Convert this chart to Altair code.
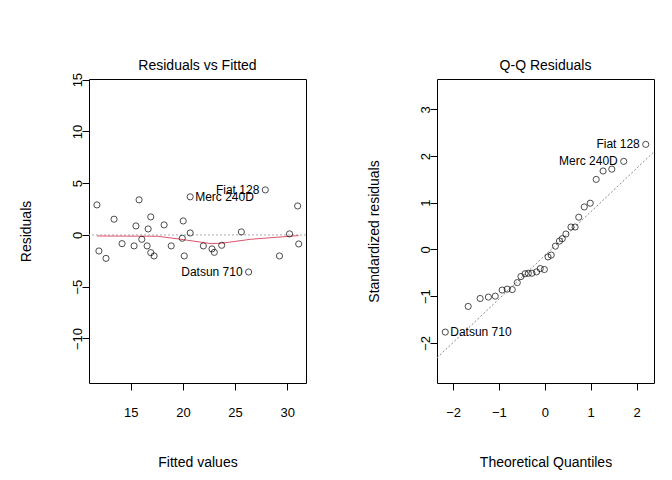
import altair as alt
import pandas as pd

# Residuals vs Fitted
fitted = [11.76, 11.95, 12.63, 13.4, 14.17, 15.32, 15.5, 15.8, 16.06, 16.57, 16.67,
          16.92, 16.92, 17.24, 18.2, 18.88, 19.94, 20.03, 20.13, 20.7, 20.7, 21.96,
          22.79, 23.01, 23.72, 25.6, 26.3, 27.9, 29.26, 30.22, 31.0, 31.1]
resid = [2.9, -1.55, -2.26, 1.52, -0.84, -1.06, 0.87, 3.39, -0.42, -1.06, 0.58,
         1.74, -1.71, -2.03, 0.97, -1.06, -0.32, 1.35, -2.03, 3.68, 0.19, -1.06,
         -1.35, -1.68, -1.0, 0.29, -3.58, 4.35, -2.03, 0.1, 2.8, -0.87]
smooth_x = [11.76, 17.6, 19.8, 22.7, 23.7, 26.5, 31.1]
smooth_y = [-0.1, -0.13, -0.42, -0.84, -0.8, -0.42, -0.06]

# Q-Q Residuals
theo = [2.20, 1.72, 1.46, 1.27, 1.12, 0.99, 0.86, 0.74, 0.66, 0.57, 0.46, 0.38,
        0.32, 0.23, 0.14, 0.07, -0.01, -0.10, -0.18, -0.28, -0.36, -0.43, -0.52,
        -0.60, -0.71, -0.82, -0.93, -1.08, -1.23, -1.41, -1.67, -2.17]
std_resid = [2.25, 1.886, 1.72, 1.68, 1.5, 0.99, 0.91, 0.69, 0.48, 0.48, 0.33, 0.23,
             0.18, 0.07, -0.12, -0.16, -0.43, -0.41, -0.48, -0.51, -0.51, -0.52, -0.58,
             -0.71, -0.86, -0.85, -0.87, -1.0, -1.02, -1.05, -1.22, -1.77]
qq_line_x = [-2.35, 2.38]
qq_line_y = [-2.32, 2.09]

labels_left = pd.DataFrame({"x": [27.9, 26.3, 20.7], "y": [4.35, -3.58, 3.68],
                            "name": ["Fiat 128", "Datsun 710", "Merc 240D"],
                            "side": ["r", "r", "l"]})
labels_right = pd.DataFrame({"x": [2.20, 1.72, -2.17], "y": [2.25, 1.886, -1.77],
                             "name": ["Fiat 128", "Merc 240D", "Datsun 710"],
                             "side": ["r", "r", "l"]})

W, H = 217, 304
FONT = "Liberation Sans"
RED = "#DF536B"


def xaxis(title, values):
    return alt.Axis(title=title, values=values, labelPadding=16, titlePadding=36,
                    tickSize=7, labelFontSize=13, titleFontSize=14, titleFontWeight="normal")


def yaxis(title, values):
    return alt.Axis(title=title, values=values, labelAngle=-90, labelAlign="center",
                    labelBaseline="bottom", labelPadding=-2, titlePadding=38, tickSize=7,
                    labelFontSize=13, titleFontSize=14, titleFontWeight="normal")


def point_layer(df, xs, ys):
    return alt.Chart(df).mark_point(shape="circle", filled=False, color="black",
                                    size=38, strokeWidth=1).encode(x=xs, y=ys)


def text_layers(df, xname, yname):
    right = alt.Chart(df[df.side == "r"]).mark_text(align="right", dx=-6, font=FONT,
                                                    fontSize=12, color="black").encode(
        x=xname, y=yname, text="name")
    left = alt.Chart(df[df.side == "l"]).mark_text(align="left", dx=5, font=FONT,
                                                   fontSize=12, color="black").encode(
        x=xname, y=yname, text="name")
    return right + left


def panel_title(text):
    return alt.Chart(pd.DataFrame({"t": [text]})).mark_text(
        font=FONT, fontSize=14, color="black", baseline="middle").encode(
        x=alt.value(W / 2), y=alt.value(-13), text="t:N")


# left panel
lx = alt.X("x:Q", scale=alt.Scale(domain=[11.0, 31.8], nice=False, zero=False),
           axis=xaxis("Fitted values", [15, 20, 25, 30]))
ly = alt.Y("y:Q", scale=alt.Scale(domain=[-14.3, 15.06], nice=False, zero=False),
           axis=yaxis("Residuals", [-10, -5, 0, 5, 10, 15]))

df_rf = pd.DataFrame({"x": fitted, "y": resid})
df_sm = pd.DataFrame({"x": smooth_x, "y": smooth_y})

zero = alt.Chart(pd.DataFrame({"y": [0]})).mark_rule(color="#aaaaaa", strokeDash=[2, 2]).encode(
    y=alt.Y("y:Q"))
smooth = alt.Chart(df_sm).mark_line(color=RED, strokeWidth=1).encode(x="x:Q", y="y:Q")
left = alt.layer(zero, smooth, point_layer(df_rf, lx, ly), text_layers(labels_left, "x:Q", "y:Q"),
                 panel_title("Residuals vs Fitted")).properties(width=W, height=H)

# right panel
rx = alt.X("x:Q", scale=alt.Scale(domain=[-2.35, 2.38], nice=False, zero=False),
           axis=xaxis("Theoretical Quantiles", [-2, -1, 0, 1, 2]))
ry = alt.Y("y:Q", scale=alt.Scale(domain=[-2.86, 3.65], nice=False, zero=False),
           axis=yaxis("Standardized residuals", [-2, -1, 0, 1, 2, 3]))

df_qq = pd.DataFrame({"x": theo, "y": std_resid})
df_ql = pd.DataFrame({"x": qq_line_x, "y": qq_line_y})
qline = alt.Chart(df_ql).mark_line(color="#888888", strokeDash=[2, 2], strokeWidth=1).encode(
    x="x:Q", y="y:Q")
right = alt.layer(qline, point_layer(df_qq, rx, ry), text_layers(labels_right, "x:Q", "y:Q"),
                  panel_title("Q-Q Residuals")).properties(width=W, height=H)

chart = alt.hconcat(left, right, spacing=59).properties(
    padding={"left": 10, "top": 50, "right": 5, "bottom": 5}
).configure(font=FONT).configure_view(stroke="black", strokeWidth=1).configure_axis(
    grid=False, domain=False, tickColor="black", labelColor="black", titleColor="black",
    labelFont=FONT, titleFont=FONT
)

chart.save("out.html", embed_options={"renderer": "svg", "actions": False})
